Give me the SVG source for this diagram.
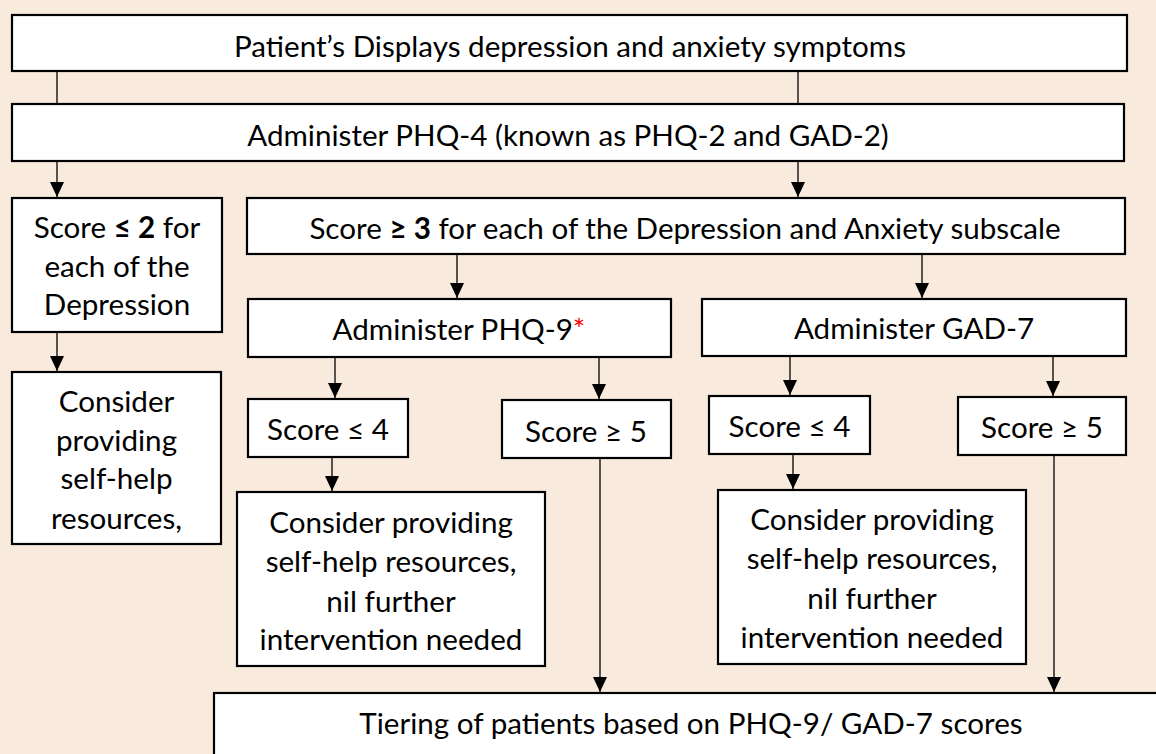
<svg xmlns="http://www.w3.org/2000/svg" width="1156" height="754" viewBox="0 0 1156 754">
<style>
.bg{fill:#F8EBDD}
.box{fill:#FFFFFF;stroke:#000000;stroke-width:2.2}
.t{font-family:Lato,"Liberation Sans",sans-serif;font-size:29.6px;fill:#000000;text-anchor:middle}
.b{font-weight:bold}
.red{fill:#FF0000}
.c{stroke:#000000;stroke-width:1.3;fill:none}
</style>
<defs>
<marker id="ah" markerUnits="userSpaceOnUse" markerWidth="15" markerHeight="14" refX="15" refY="7" orient="auto">
<path d="M0,0 L15,7 L0,14 z" fill="#000000"/>
</marker>
</defs>
<rect class="bg" x="0" y="0" width="1156" height="754"/>
<g id="connectors">
<line class="c" x1="57" y1="71" x2="57" y2="104"/>
<line class="c" x1="798" y1="71" x2="798" y2="104"/>
<line class="c" x1="57" y1="161" x2="57" y2="197" marker-end="url(#ah)"/>
<line class="c" x1="798" y1="161" x2="798" y2="197" marker-end="url(#ah)"/>
<line class="c" x1="57" y1="332" x2="57" y2="371" marker-end="url(#ah)"/>
<line class="c" x1="457" y1="254" x2="457" y2="298" marker-end="url(#ah)"/>
<line class="c" x1="922" y1="254" x2="922" y2="298" marker-end="url(#ah)"/>
<line class="c" x1="335" y1="357" x2="335" y2="398" marker-end="url(#ah)"/>
<line class="c" x1="599" y1="357" x2="599" y2="399" marker-end="url(#ah)"/>
<line class="c" x1="790" y1="356" x2="790" y2="395" marker-end="url(#ah)"/>
<line class="c" x1="1053" y1="356" x2="1053" y2="396" marker-end="url(#ah)"/>
<line class="c" x1="332" y1="457" x2="332" y2="491" marker-end="url(#ah)"/>
<line class="c" x1="793" y1="454" x2="793" y2="489" marker-end="url(#ah)"/>
<line class="c" x1="600" y1="458" x2="600" y2="692" marker-end="url(#ah)"/>
<line class="c" x1="1054" y1="455" x2="1054" y2="692" marker-end="url(#ah)"/>
</g>
<g id="n1">
<rect class="box" x="12" y="15" width="1115" height="56"/>
<text class="t" x="570" y="57">Patient’s Displays depression and anxiety symptoms</text>
</g>
<g id="n2">
<rect class="box" x="12" y="104" width="1112" height="57"/>
<text class="t" x="568" y="146">Administer PHQ-4 (known as PHQ-2 and GAD-2)</text>
</g>
<g id="n3">
<rect class="box" x="12" y="198" width="210" height="134"/>
<text class="t" x="117" y="238">Score <tspan class="b">≤ 2</tspan> for</text>
<text class="t" x="117" y="277">each of the</text>
<text class="t" x="117" y="315">Depression</text>
</g>
<g id="n4">
<rect class="box" x="12" y="372" width="209" height="172"/>
<text class="t" x="116.5" y="412">Consider</text>
<text class="t" x="116.5" y="451">providing</text>
<text class="t" x="116.5" y="489">self-help</text>
<text class="t" x="116.5" y="529">resources,</text>
</g>
<g id="n5">
<rect class="box" x="247" y="198" width="878" height="56"/>
<text class="t" x="685" y="239">Score <tspan class="b">≥ 3</tspan> for each of the Depression and Anxiety subscale</text>
</g>
<g id="n6">
<rect class="box" x="248" y="299" width="423" height="58"/>
<text class="t" x="459" y="340">Administer PHQ-9<tspan class="red">*</tspan></text>
</g>
<g id="n7">
<rect class="box" x="702" y="299" width="424" height="57"/>
<text class="t" x="914" y="339">Administer GAD-7</text>
</g>
<g id="n8">
<rect class="box" x="248" y="399" width="160" height="58"/>
<text class="t" x="328" y="440">Score ≤ 4</text>
</g>
<g id="n9">
<rect class="box" x="502" y="400" width="169" height="58"/>
<text class="t" x="586" y="442">Score ≥ 5</text>
</g>
<g id="n10">
<rect class="box" x="709" y="396" width="161" height="58"/>
<text class="t" x="789.5" y="437">Score ≤ 4</text>
</g>
<g id="n11">
<rect class="box" x="958" y="397" width="168" height="58"/>
<text class="t" x="1042" y="438">Score ≥ 5</text>
</g>
<g id="n12">
<rect class="box" x="237" y="492" width="308" height="174"/>
<text class="t" x="391" y="533">Consider providing</text>
<text class="t" x="391" y="572">self-help resources,</text>
<text class="t" x="391" y="612">nil further</text>
<text class="t" x="391" y="650">intervention needed</text>
</g>
<g id="n13">
<rect class="box" x="718" y="490" width="308" height="174"/>
<text class="t" x="872" y="530">Consider providing</text>
<text class="t" x="872" y="569">self-help resources,</text>
<text class="t" x="872" y="609">nil further</text>
<text class="t" x="872" y="648">intervention needed</text>
</g>
<g id="n14">
<rect class="box" x="214" y="693" width="960" height="80"/>
<text class="t" x="691" y="734">Tiering of patients based on PHQ-9/ GAD-7 scores</text>
</g>
</svg>
